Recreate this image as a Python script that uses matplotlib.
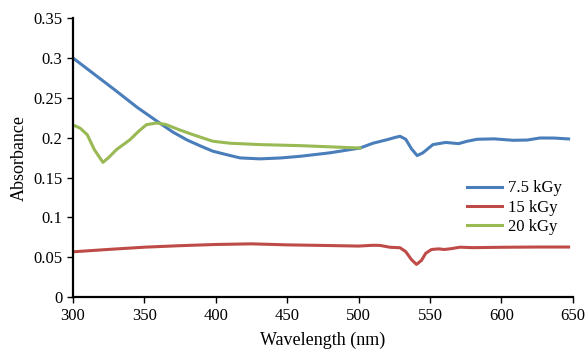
import matplotlib.pyplot as plt
import matplotlib as mpl

mpl.rcParams['font.family'] = ['Liberation Serif', 'DejaVu Serif']

# 7.5 kGy
wl_blue = [300, 315, 330, 345, 361, 370, 380, 390, 398, 408, 417, 431, 445,
           459, 480, 501, 510, 520, 526, 529, 533, 537, 541, 545, 552, 561, 570,
           576, 583, 595, 608, 618, 627, 637, 647]
abs_blue = [0.300, 0.2795, 0.259, 0.238, 0.218, 0.207, 0.197, 0.189, 0.183, 0.1785,
            0.1746, 0.1734, 0.1745, 0.1766, 0.181, 0.187, 0.193, 0.1975, 0.2005,
            0.2017, 0.198, 0.186, 0.1775, 0.181, 0.1913, 0.194, 0.1925, 0.1955,
            0.198, 0.1985, 0.1967, 0.197, 0.1996, 0.1995, 0.1984]

# 15 kGy
wl_red = [300, 325, 350, 375, 400, 425, 450, 475, 500, 510, 515, 522, 529, 533,
          537, 540.5, 544, 547, 551, 556, 560, 565, 571, 580, 600, 625, 647]
abs_red = [0.0568, 0.0598, 0.0626, 0.0645, 0.066, 0.0668, 0.0655, 0.0648, 0.064,
           0.065, 0.0648, 0.0625, 0.0619, 0.057, 0.047, 0.041, 0.046, 0.055,
           0.0597, 0.0605, 0.0597, 0.0608, 0.0626, 0.062, 0.0625, 0.0628, 0.0628]

# 20 kGy
wl_green = [300, 305, 310, 315, 321, 325, 330.5, 340, 346, 351.5, 358.6, 365, 375,
            384, 392, 398, 410, 431, 459, 480, 501]
abs_green = [0.216, 0.212, 0.2038, 0.185, 0.169, 0.175, 0.185, 0.1975, 0.208,
             0.2163, 0.2184, 0.2165, 0.2095, 0.2038, 0.199, 0.1955, 0.193, 0.1913,
             0.190, 0.1885, 0.187]

xticks = [300, 350, 400, 450, 500, 550, 600, 650]
yticks = [0, 0.05, 0.1, 0.15, 0.2, 0.25, 0.3, 0.35]
ytick_labels = ['0', '0.05', '0.1', '0.15', '0.2', '0.25', '0.3', '0.35']

fig = plt.figure(figsize=(5.88, 3.52), dpi=100)
ax = fig.add_axes([0.124, 0.156, 0.8503, 0.7926])

ax.plot(wl_blue, abs_blue, color='#4A7EBB', lw=2.2, label='7.5 kGy')
ax.plot(wl_red, abs_red, color='#BE4B48', lw=2.2, label='15 kGy')
ax.plot(wl_green, abs_green, color='#98B954', lw=2.2, label='20 kGy')

ax.set_xlim(300, 650)
ax.set_ylim(0, 0.35)
ax.set_xticks(xticks)
ax.set_yticks(yticks)
ax.set_yticklabels(ytick_labels)
ax.tick_params(direction='out', length=4, width=1, labelsize=12, colors='black')
ax.spines['top'].set_visible(False)
ax.spines['right'].set_visible(False)
ax.spines['left'].set_linewidth(1.6)
ax.spines['bottom'].set_linewidth(1.6)
ax.set_xlabel('Wavelength (nm)', fontsize=13, labelpad=6)
ax.set_ylabel('Absorbance', fontsize=13, labelpad=4)

ax.legend(loc='upper left', bbox_to_anchor=(0.788, 0.418), frameon=False, fontsize=12,
          handlelength=2.1, handletextpad=0.35, labelspacing=0.2, borderaxespad=0,
          borderpad=0)

fig.savefig('out.png', dpi=100)
